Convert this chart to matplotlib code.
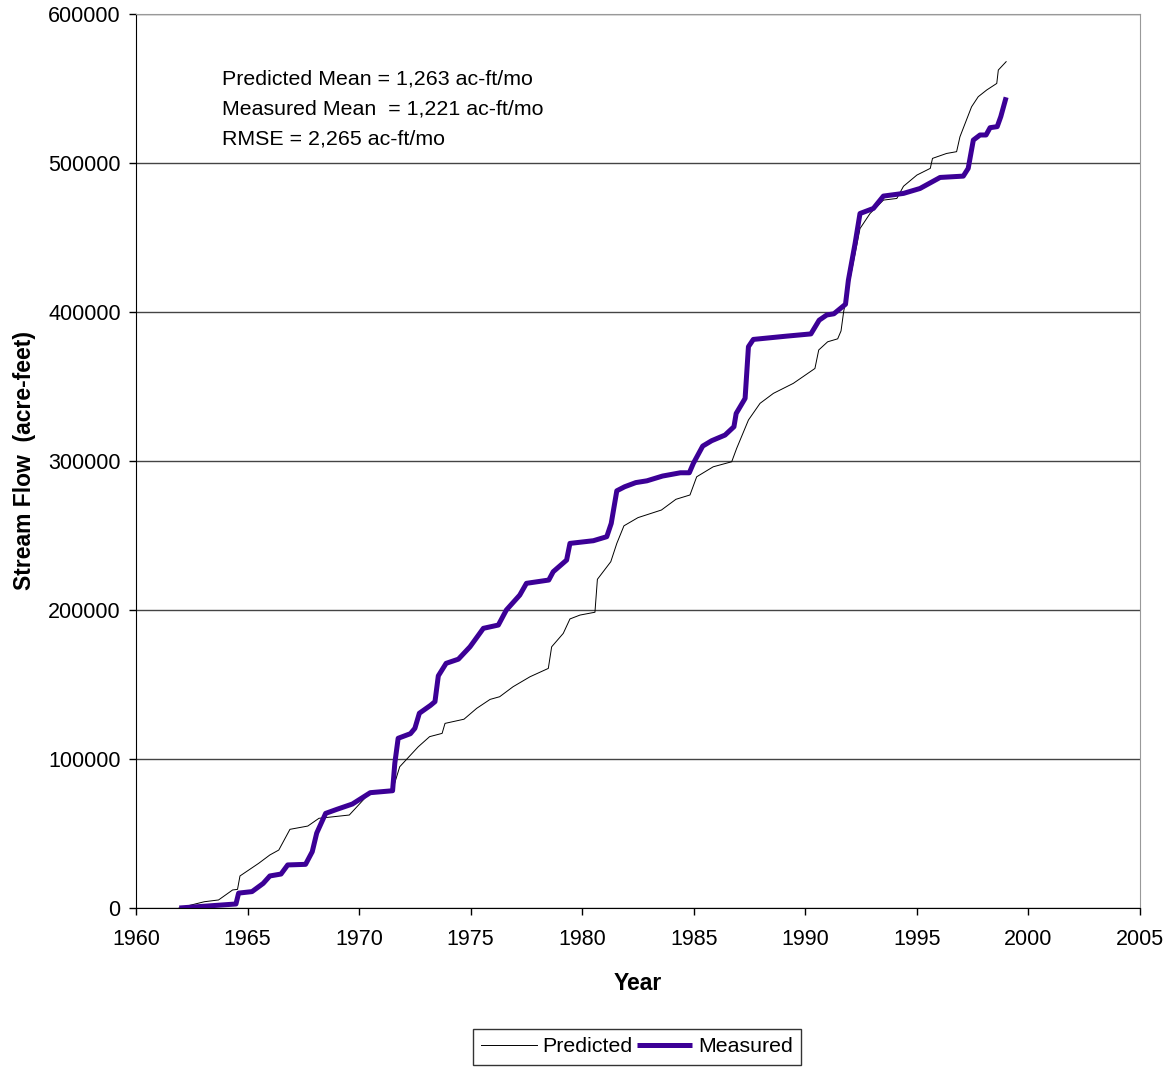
import matplotlib
matplotlib.use("Agg")
import matplotlib.pyplot as plt

plt.rcParams["font.family"] = ["Liberation Sans", "DejaVu Sans"]

# cumulative stream flow
measured_year = [1961.94, 1964.48, 1964.6, 1965.2, 1965.7, 1966.0, 1966.5, 1966.8,
                 1967.6, 1967.9, 1968.1, 1968.5, 1969.0, 1969.7, 1970.5, 1971.5,
                 1971.6, 1971.75, 1972.3, 1972.5, 1972.7, 1973.2, 1973.4, 1973.55,
                 1973.9, 1974.45, 1974.97, 1975.57, 1976.24, 1976.6, 1977.2, 1977.5,
                 1978.5, 1978.7, 1979.3, 1979.45, 1980.5, 1981.1, 1981.3, 1981.55,
                 1981.9, 1982.4, 1982.9, 1983.6, 1984.4, 1984.8, 1984.98, 1985.4,
                 1985.8, 1986.4, 1986.8, 1986.9, 1987.3, 1987.45, 1987.67, 1989.16,
                 1990.25, 1990.62, 1990.96, 1991.28, 1991.8, 1991.93, 1992.23, 1992.45,
                 1993.05, 1993.5, 1994.4, 1995.14, 1996.04, 1997.08, 1997.3, 1997.53,
                 1997.83, 1998.1, 1998.28, 1998.6, 1998.76, 1999.0]
measured_flow = [0, 2700, 10000, 11000, 16500, 21500, 22800, 28900,
                 29300, 37800, 50300, 63500, 66200, 69800, 77400, 78700,
                 97100, 113900, 117000, 120600, 130700, 136000, 138500, 155800,
                 164200, 167000, 175300, 187700, 189900, 200000, 210000, 217900,
                 220100, 225700, 233500, 244700, 246500, 249200, 258100, 280000,
                 282700, 285500, 286700, 289900, 292100, 292100, 298400, 310000,
                 313600, 317400, 323000, 331900, 342000, 376700, 381600, 383800,
                 385300, 394500, 398000, 398800, 405200, 421400, 446000, 466100,
                 469500, 477800, 479600, 482900, 490300, 491200, 496400, 515400,
                 518800, 518800, 523700, 524400, 531100, 544100]

predicted_year = [1961.93, 1963.06, 1963.7, 1964.33, 1964.55, 1964.66, 1965.5, 1966.0,
                  1966.4, 1966.9, 1967.7, 1968.2, 1969.56, 1970.46, 1971.5, 1971.82,
                  1972.65, 1973.16, 1973.72, 1973.85, 1974.7, 1975.27, 1975.87, 1976.3,
                  1976.9, 1977.66, 1978.48, 1978.63, 1979.15, 1979.45, 1979.9, 1980.57,
                  1980.68, 1981.28, 1981.55, 1981.87, 1982.5, 1983.55, 1984.2, 1984.83,
                  1985.13, 1985.87, 1986.7, 1986.92, 1987.45, 1987.97, 1988.57, 1989.46,
                  1990.43, 1990.6, 1991.0, 1991.45, 1991.6, 1991.72, 1992.45, 1992.9,
                  1993.5, 1994.1, 1994.4, 1995.0, 1995.6, 1995.7, 1996.33, 1996.78,
                  1996.93, 1997.45, 1997.75, 1998.13, 1998.58, 1998.65, 1999.0]
predicted_flow = [0, 4200, 5400, 12100, 12500, 21500, 30000, 35600,
                  38900, 52800, 55000, 60200, 62400, 77000, 79200, 94800,
                  108200, 115000, 117200, 123900, 126700, 134000, 140000, 141800,
                  148500, 155200, 160800, 175300, 184300, 194000, 196600, 198500,
                  220600, 232400, 244700, 256500, 262000, 267100, 274300, 277200,
                  289400, 296100, 299500, 308400, 327500, 338700, 345400, 352100,
                  362100, 374500, 380000, 382000, 387300, 400500, 456000, 466100,
                  475100, 476200, 484400, 491900, 496400, 503100, 506400, 507600,
                  517600, 537700, 544500, 549000, 553400, 562400, 568000]

x_ticks = list(range(1960, 2006, 5))
y_ticks = list(range(0, 600001, 100000))

stats_text = ["Predicted Mean = 1,263 ac-ft/mo",
              "Measured Mean  = 1,221 ac-ft/mo",
              "RMSE = 2,265 ac-ft/mo"]

W, H = 1170, 1071
fig = plt.figure(figsize=(W / 100, H / 100), dpi=100)
ax = fig.add_axes([136 / W, 1 - 908 / H, 1004 / W, 894 / H])

ax.plot(predicted_year, predicted_flow, color="black", lw=0.7, label="Predicted")
ax.plot(measured_year, measured_flow, color="#3c0096", lw=3.6,
        solid_capstyle="butt", label="Measured")

ax.set_xlim(1960, 2005)
ax.set_ylim(0, 600000)
ax.set_xticks(x_ticks)
ax.set_yticks(y_ticks)
ax.tick_params(direction="out", length=5, width=1, labelsize=15.5)
ax.tick_params(axis="y", pad=6)
ax.tick_params(axis="x", pad=10)
ax.yaxis.grid(True, color="#444444", lw=1)
ax.set_axisbelow(True)

for side in ["left", "bottom"]:
    ax.spines[side].set_color("black")
for side in ["top", "right"]:
    ax.spines[side].set_color("#999999")

ax.set_xlabel("Year", fontsize=16.5, fontweight="bold", labelpad=16)
ax.set_ylabel("Stream Flow  (acre-feet)", fontsize=16.5, fontweight="bold", labelpad=9)

# stats box text, placed in figure pixel rows like the original
for i, line in enumerate(stats_text):
    fig.text(222 / W, 1 - (79 + 30 * i) / H, line, fontsize=15.4, va="center")

leg = fig.legend(loc="center", bbox_to_anchor=(637 / W, 1 - 1047 / H), ncol=2,
                 fontsize=15.4, frameon=True, fancybox=False, handlelength=2.6,
                 handletextpad=0.25, columnspacing=0.2, borderpad=0.4,
                 borderaxespad=0)
leg.get_frame().set_edgecolor("black")
leg.get_frame().set_linewidth(1)

fig.savefig("out.png", dpi=100)
